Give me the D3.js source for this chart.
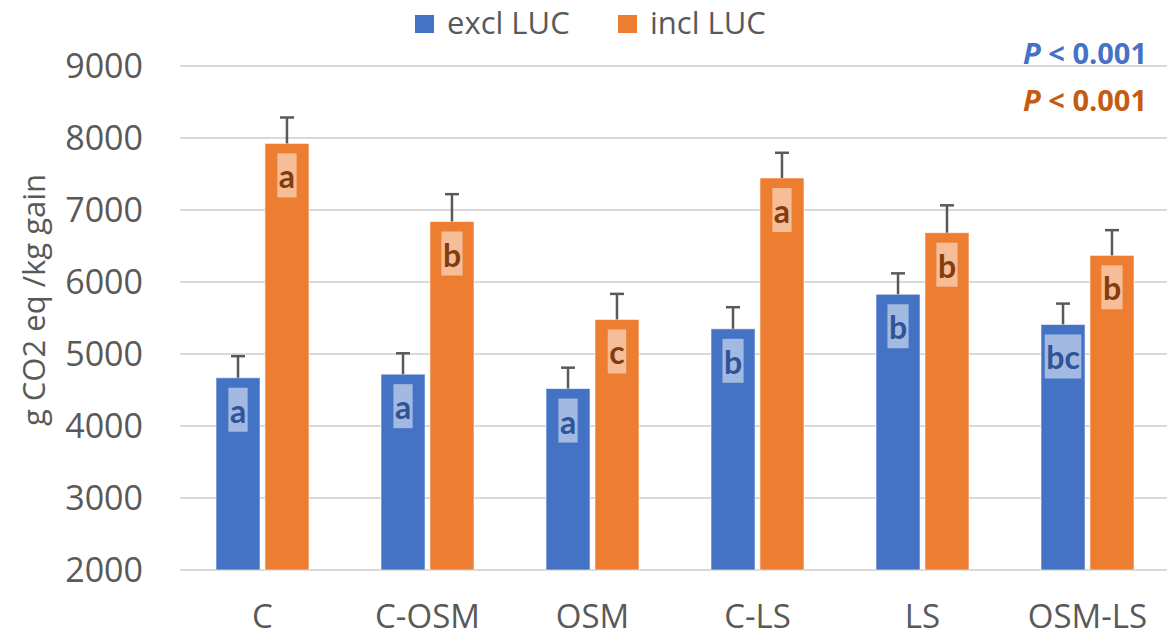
<!DOCTYPE html>
<html>
<head>
<meta charset="utf-8">
<script src="https://cdn.jsdelivr.net/npm/d3@7"></script>
<style>
  html, body { margin: 0; padding: 0; background: #fff; }
  svg { display: block; }
</style>
</head>
<body>
<div id="chart"></div>
<script>
const categories = ['C', 'C-OSM', 'OSM', 'C-LS', 'LS', 'OSM-LS'];
const seriesNames = ['excl LUC', 'incl LUC'];
const exclValues = [4670, 4720, 4520, 5350, 5830, 5410];
const exclErrors = [300, 290, 290, 300, 290, 290];
const inclValues = [7925, 6840, 5480, 7445, 6685, 6370];
const inclErrors = [360, 380, 355, 350, 380, 350];
const exclLetters = ['a', 'a', 'a', 'b', 'b', 'bc'];
const inclLetters = ['a', 'b', 'c', 'a', 'b', 'b'];
const yTicks = [2000, 3000, 4000, 5000, 6000, 7000, 8000, 9000];
const pLabels = ['< 0.001', '< 0.001'];

const COLORS = {
  excl: '#4472c4',
  incl: '#ed7d31',
  exclText: '#2f5597',
  inclText: '#843c0c',
  pExcl: '#4472c4',
  pIncl: '#c55a11',
  grid: '#d9d9d9',
  text: '#595959',
  err: '#595959',
};

const width = 1167;
const height = 637;
const svg = d3.select('#chart').append('svg').attr('width', width).attr('height', height);
svg.append('rect').attr('width', width).attr('height', height).attr('fill', '#fff');

const y = d3.scaleLinear().domain([2000, 9000]).range([570, 66]);
const x0 = d3.scaleBand().domain(categories).range([180, 1170]).padding(0);
const groupWidth = 93;
const x1 = d3.scaleBand().domain(seriesNames)
  .range([(x0.bandwidth() - groupWidth) / 2, (x0.bandwidth() + groupWidth) / 2])
  .paddingInner(0.1);

// gridlines
svg.append('g')
  .selectAll('line')
  .data(yTicks)
  .enter()
  .append('line')
  .attr('x1', 180)
  .attr('x2', width)
  .attr('y1', (d) => y(d))
  .attr('y2', (d) => y(d))
  .attr('stroke', COLORS.grid)
  .attr('stroke-width', 2);

// y tick labels
svg.append('g')
  .selectAll('text')
  .data(yTicks)
  .enter()
  .append('text')
  .attr('x', 143)
  .attr('y', (d) => y(d))
  .attr('dy', '0.36em')
  .attr('text-anchor', 'end')
  .attr('font-family', 'Open Sans')
  .attr('font-size', 34)
  .attr('fill', COLORS.text)
  .text((d) => d);

// y title
svg.append('text')
  .attr('transform', 'translate(45,300) rotate(-90)')
  .attr('text-anchor', 'middle')
  .attr('font-family', 'Open Sans')
  .attr('font-size', 31)
  .attr('fill', COLORS.text)
  .text('g CO2 eq /kg gain');

// x labels
svg.append('g')
  .selectAll('text')
  .data(categories)
  .enter()
  .append('text')
  .attr('x', (d) => x0(d) + x0.bandwidth() / 2)
  .attr('y', 628)
  .attr('text-anchor', 'middle')
  .attr('font-family', 'Open Sans')
  .attr('font-size', 33)
  .attr('fill', COLORS.text)
  .text((d) => d);

const series = [
  { name: seriesNames[0], values: exclValues, errors: exclErrors, letters: exclLetters, color: COLORS.excl, textColor: COLORS.exclText },
  { name: seriesNames[1], values: inclValues, errors: inclErrors, letters: inclLetters, color: COLORS.incl, textColor: COLORS.inclText },
];

series.forEach((s) => {
  const rows = categories.map((cat, i) => ({ cat, value: s.values[i], err: s.errors[i], letter: s.letters[i] }));
  const g = svg.append('g');
  const barX = (row) => x0(row.cat) + x1(s.name);
  const midX = (row) => barX(row) + x1.bandwidth() / 2;

  g.selectAll('.bar')
    .data(rows)
    .enter()
    .append('rect')
    .attr('x', barX)
    .attr('y', (row) => y(row.value))
    .attr('width', x1.bandwidth())
    .attr('height', (row) => y(2000) - y(row.value))
    .attr('fill', s.color)
    .attr('stroke', '#fff')
    .attr('stroke-opacity', 0.6)
    .attr('stroke-width', 1);

  g.selectAll('.err')
    .data(rows)
    .enter()
    .append('line')
    .attr('x1', midX)
    .attr('x2', midX)
    .attr('y1', (row) => y(row.value))
    .attr('y2', (row) => y(row.value + row.err))
    .attr('stroke', COLORS.err)
    .attr('stroke-width', 2.5);

  g.selectAll('.cap')
    .data(rows)
    .enter()
    .append('line')
    .attr('x1', (row) => midX(row) - 7)
    .attr('x2', (row) => midX(row) + 7)
    .attr('y1', (row) => y(row.value + row.err))
    .attr('y2', (row) => y(row.value + row.err))
    .attr('stroke', COLORS.err)
    .attr('stroke-width', 2.5);

  rows.forEach((row) => {
    const top = y(row.value) + 10;
    const box = g.append('rect').attr('fill', '#fff').attr('fill-opacity', 0.5);
    const label = g.append('text')
      .attr('x', midX(row))
      .attr('y', top + 35)
      .attr('text-anchor', 'middle')
      .attr('font-family', 'Lato')
      .attr('font-weight', 'bold')
      .attr('font-size', 32)
      .attr('fill', s.textColor)
      .text(row.letter);
    const w = label.node().getComputedTextLength() + 3;
    box.attr('x', midX(row) - w / 2).attr('y', top).attr('width', w).attr('height', 44);
  });
});

// legend
const legend = svg.append('g');
const legendItems = [
  { name: seriesNames[0], color: COLORS.excl, x: 415 },
  { name: seriesNames[1], color: COLORS.incl, x: 618 },
];
legendItems.forEach((item) => {
  legend.append('rect')
    .attr('x', item.x)
    .attr('y', 15)
    .attr('width', 19)
    .attr('height', 18)
    .attr('fill', item.color);
  legend.append('text')
    .attr('x', item.x + 32)
    .attr('y', 34)
    .attr('font-family', 'Open Sans')
    .attr('font-size', 31)
    .attr('fill', COLORS.text)
    .text(item.name);
});

// p-values
[[pLabels[0], COLORS.pExcl, 64], [pLabels[1], COLORS.pIncl, 111]].forEach(([label, color, yy]) => {
  const t = svg.append('text')
    .attr('x', 1147)
    .attr('y', yy)
    .attr('text-anchor', 'end')
    .attr('font-family', 'Open Sans')
    .attr('font-weight', 'bold')
    .attr('font-size', 29)
    .attr('fill', color);
  t.append('tspan').attr('font-style', 'italic').text('P');
  t.append('tspan').text(' ' + label);
});
</script>
</body>
</html>
